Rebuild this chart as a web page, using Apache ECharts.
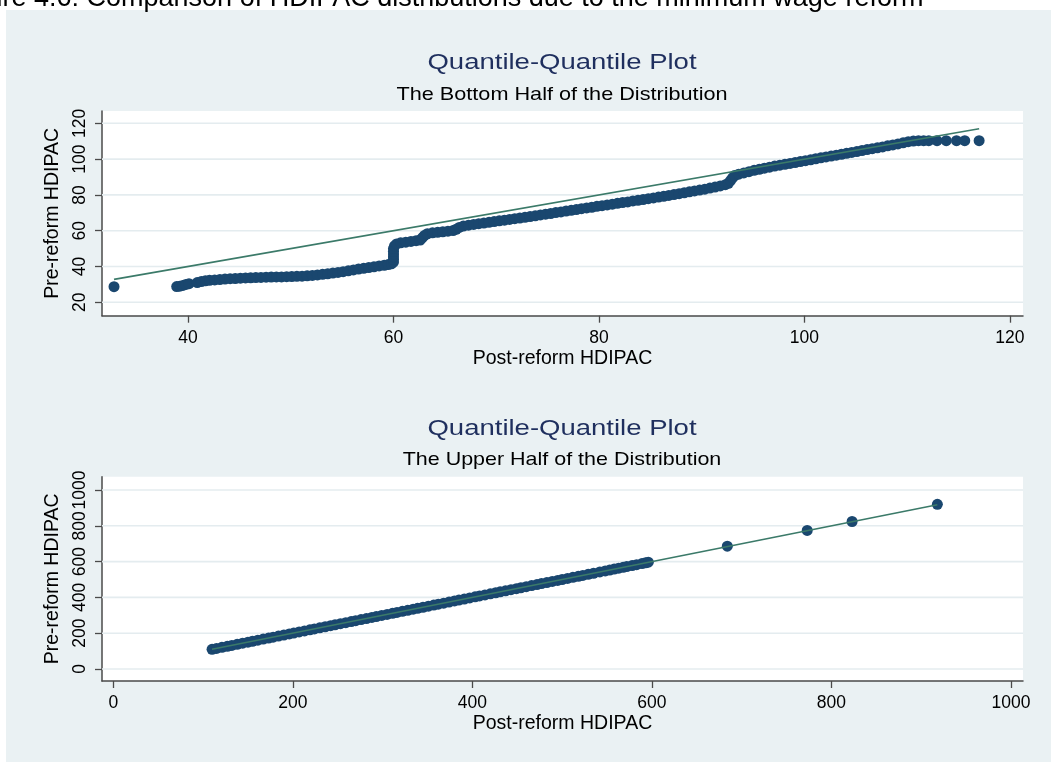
<!DOCTYPE html>
<html>
<head>
<meta charset="utf-8">
<script src="https://cdn.jsdelivr.net/npm/echarts@6/dist/echarts.min.js"></script>
<style>
  html, body { margin: 0; padding: 0; background: #ffffff; }
  #chart { width: 1051px; height: 769px; }
</style>
</head>
<body>
<div id="chart"></div>
<script>
// Bottom half of the distribution: post-reform quantiles (x) against pre-reform quantiles (y)
const bottomPost = [
  32.8, 38.9, 39.2, 39.5, 39.8, 40.1, 40.9, 41.3, 41.7, 42.1, 42.6, 43.1, 43.6, 44.1, 44.6, 45.1,
  45.6, 46.1, 46.6, 47.1, 47.6, 48.1, 48.6, 49.1, 49.6, 50.1, 50.6, 51.1, 51.6, 52.1, 52.6, 53.1,
  53.6, 54.1, 54.6, 55.1, 55.6, 56.1, 56.6, 57.1, 57.6, 58.1, 58.6, 59.1, 59.5, 59.8, 60.0, 60.0,
  60.0, 60.0, 60.0, 60.0, 60.1, 60.3, 60.7, 61.2, 61.7, 62.2, 62.6, 62.8, 63.0, 63.3, 63.8, 64.3,
  64.8, 65.3, 65.8, 66.1, 66.4, 66.8, 67.3, 67.8, 68.3, 68.8, 69.3, 69.8, 70.3, 70.8, 71.3, 71.8,
  72.3, 72.8, 73.3, 73.8, 74.3, 74.8, 75.3, 75.8, 76.3, 76.8, 77.3, 77.8, 78.3, 78.8, 79.3, 79.8,
  80.3, 80.8, 81.3, 81.8, 82.3, 82.8, 83.3, 83.8, 84.3, 84.8, 85.3, 85.8, 86.3, 86.8, 87.3, 87.8,
  88.3, 88.8, 89.3, 89.8, 90.3, 90.8, 91.3, 91.8, 92.3, 92.6, 92.8, 93.0, 93.2, 93.6, 94.1, 94.6,
  95.1, 95.6, 96.1, 96.6, 97.1, 97.6, 98.1, 98.6, 99.1, 99.6, 100.1, 100.6, 101.1, 101.6, 102.1, 102.6,
  103.1, 103.6, 104.1, 104.6, 105.1, 105.6, 106.1, 106.6, 107.1, 107.6, 108.1, 108.6, 109.1, 109.6, 110.1, 110.6,
  111.1, 111.6, 112.1, 112.9, 113.8, 114.8, 115.6, 117.0
];
const bottomPre = [
  28.7, 28.8, 29.0, 29.4, 30.0, 30.4, 31.0, 31.6, 32.0, 32.3, 32.5, 32.7, 33.0, 33.2, 33.3, 33.5,
  33.6, 33.7, 33.8, 33.9, 34.0, 34.1, 34.2, 34.2, 34.3, 34.4, 34.5, 34.6, 34.8, 35.0, 35.3, 35.6,
  35.9, 36.3, 36.7, 37.1, 37.6, 38.1, 38.6, 39.0, 39.4, 39.8, 40.3, 40.7, 41.1, 41.5, 42.5, 44.0,
  45.5, 47.0, 48.5, 50.0, 51.5, 52.6, 53.2, 53.6, 54.0, 54.4, 54.8, 56.0, 57.3, 58.3, 58.8, 59.1,
  59.4, 59.7, 60.1, 60.8, 61.8, 62.6, 63.1, 63.5, 63.9, 64.3, 64.7, 65.1, 65.5, 65.9, 66.3, 66.7,
  67.1, 67.5, 67.9, 68.3, 68.8, 69.2, 69.6, 70.1, 70.5, 71.0, 71.4, 71.8, 72.3, 72.7, 73.1, 73.6,
  74.0, 74.4, 74.8, 75.3, 75.7, 76.1, 76.6, 77.0, 77.4, 77.9, 78.3, 78.8, 79.2, 79.7, 80.2, 80.7,
  81.2, 81.7, 82.2, 82.7, 83.2, 83.8, 84.4, 85.0, 85.7, 86.5, 88.0, 89.5, 90.8, 91.6, 92.3, 93.0,
  93.7, 94.3, 94.9, 95.5, 96.1, 96.6, 97.1, 97.6, 98.1, 98.6, 99.1, 99.6, 100.2, 100.7, 101.2, 101.7,
  102.2, 102.7, 103.2, 103.7, 104.2, 104.8, 105.3, 105.8, 106.3, 106.8, 107.4, 107.9, 108.5, 109.1, 109.7, 110.1,
  110.3, 110.3, 110.3, 110.3, 110.3, 110.3, 110.3, 110.3
];

// Upper half of the distribution: post-reform quantiles (x) against pre-reform quantiles (y)
const upperPost = [
  110, 115, 121, 127, 132, 138, 144, 150, 155, 161, 167, 173, 178, 184, 190, 196,
  201, 207, 213, 219, 224, 230, 236, 242, 247, 253, 259, 265, 270, 276, 282, 288,
  293, 299, 305, 311, 316, 322, 328, 334, 339, 345, 351, 357, 362, 368, 374, 380,
  385, 391, 397, 403, 408, 414, 420, 426, 431, 437, 443, 449, 454, 460, 466, 472,
  477, 483, 489, 495, 500, 506, 512, 518, 523, 529, 535, 542, 548, 553, 558, 563,
  568, 572, 578, 583, 589, 593, 596, 684, 773, 823, 918
];
const upperPre = [
  110, 115, 121, 127, 132, 138, 144, 150, 155, 161, 167, 173, 178, 184, 190, 196,
  201, 207, 213, 219, 224, 230, 236, 242, 247, 253, 259, 265, 270, 276, 282, 288,
  293, 299, 305, 311, 316, 322, 328, 334, 339, 345, 351, 357, 362, 368, 374, 380,
  385, 391, 397, 403, 408, 414, 420, 426, 431, 437, 443, 449, 454, 460, 466, 472,
  477, 483, 489, 495, 500, 506, 512, 518, 523, 529, 535, 542, 548, 553, 558, 563,
  568, 572, 578, 583, 589, 593, 597, 686, 774, 824, 920
];

// Tick values
const bottomXTicks = [40, 60, 80, 100, 120];
const bottomYTicks = [20, 40, 60, 80, 100, 120];
const upperXTicks = [0, 200, 400, 600, 800, 1000];
const upperYTicks = [0, 200, 400, 600, 800, 1000];

// Text
const captionText = 'Figure 4.6: Comparison of HDIPAC distributions due to the minimum wage reform';
const plotTitle = 'Quantile-Quantile Plot';
const bottomSubtitle = 'The Bottom Half of the Distribution';
const upperSubtitle = 'The Upper Half of the Distribution';
const xName = 'Post-reform HDIPAC';
const yName = 'Pre-reform HDIPAC';

const FONT = '"Liberation Sans", Arial, Helvetica, sans-serif';
const NAVY = '#1a476f';
const REFLINE = '#3b7a69';
const GRIDLINE = '#e4ecef';
const AXIS = '#4a4a4a';

// axis ranges of the two panels
const bottomRange = { x: [31.63, 121.27], y: [12.51, 126.87] };
const upperRange = { x: [-12.6, 1013.4], y: [-67, 1074.3] };

const plainNumber = v => String(v);

function xAxisFor(gridIndex, range, ticks) {
  return {
    type: 'value', gridIndex, min: range[0], max: range[1],
    name: xName, nameLocation: 'middle', nameGap: 33,
    nameTextStyle: { fontFamily: FONT, fontSize: 19.5, color: '#000' },
    axisLine: { show: true, onZero: false, lineStyle: { color: AXIS, width: 1.5 } },
    axisTick: { show: true, length: 7, customValues: ticks, lineStyle: { color: AXIS, width: 1.3 } },
    axisLabel: { customValues: ticks, formatter: plainNumber, margin: 13,
                 fontFamily: FONT, fontSize: 17.5, color: '#000' },
    splitLine: { show: false }
  };
}
function yAxisFor(gridIndex, range, ticks) {
  return {
    type: 'value', gridIndex, min: range[0], max: range[1],
    name: yName, nameLocation: 'middle', nameGap: 30, nameRotate: 90,
    nameTextStyle: { fontFamily: FONT, fontSize: 19.5, color: '#000' },
    axisLine: { show: true, onZero: false, lineStyle: { color: AXIS, width: 1.5 } },
    axisTick: { show: true, length: 7, customValues: ticks, lineStyle: { color: AXIS, width: 1.3 } },
    axisLabel: { customValues: ticks, formatter: plainNumber, margin: 13, rotate: 90,
                 fontFamily: FONT, fontSize: 17.5, color: '#000' },
    splitLine: { show: false }
  };
}

// horizontal grid lines at the y tick values
function gridLineSeries(idx, ticks, xr) {
  return {
    type: 'custom', xAxisIndex: idx, yAxisIndex: idx, z: 1, silent: true, clip: false,
    data: ticks.map(v => [xr[0], v]),
    encode: { x: 0, y: 1 },
    renderItem: function (params, api) {
      const v = api.value(1);
      const a = api.coord([xr[0], v]);
      const b = api.coord([xr[1], v]);
      return { type: 'line', shape: { x1: a[0], y1: a[1], x2: b[0], y2: b[1] },
               style: { stroke: GRIDLINE, lineWidth: 1.6 } };
    }
  };
}
function pointSeries(idx, xs, ys) {
  return {
    type: 'scatter', xAxisIndex: idx, yAxisIndex: idx, z: 2, silent: true,
    symbol: 'circle', symbolSize: 11,
    itemStyle: { color: NAVY, opacity: 1 },
    data: xs.map((x, i) => [x, ys[i]])
  };
}
// 45-degree reference line over the range of the post-reform quantiles
function refLineSeries(idx, xs) {
  const lo = Math.min(...xs), hi = Math.max(...xs);
  return {
    type: 'line', xAxisIndex: idx, yAxisIndex: idx, z: 3, silent: true,
    showSymbol: false, symbol: 'none',
    lineStyle: { color: REFLINE, width: 1.6 },
    data: [[lo, lo], [hi, hi]]
  };
}

function titleText(text, x, y, size, color, sx) {
  return {
    type: 'text', x, y, scaleX: sx, z: 5,
    style: { text, x: 0, y: 0, fill: color, font: size + 'px ' + FONT,
             align: 'center', verticalAlign: 'middle',
             textAlign: 'center', textVerticalAlign: 'middle' }
  };
}

const chart = echarts.init(document.getElementById('chart'), null, { renderer: 'canvas' });
chart.setOption({
  animation: false,
  backgroundColor: '#ffffff',
  graphic: [
    { type: 'rect', z: -10, shape: { x: 6, y: 10, width: 1060, height: 752 }, style: { fill: '#eaf1f3' } },
    { type: 'text', x: -50, y: -1.5, z: 5,
      style: { text: captionText, x: 0, y: 0, fill: '#000', font: '27px ' + FONT,
               align: 'left', verticalAlign: 'middle', textAlign: 'left', textVerticalAlign: 'middle' } },
    titleText(plotTitle, 562, 62.5, 22, '#1f2f5e', 1.25),
    titleText(bottomSubtitle, 562, 94.5, 19, '#000', 1.14),
    titleText(plotTitle, 562, 428.5, 22, '#1f2f5e', 1.25),
    titleText(upperSubtitle, 562, 460, 19, '#000', 1.13)
  ],
  grid: [
    { left: 102, top: 111, width: 921, height: 204.7, show: true, backgroundColor: '#ffffff', borderWidth: 0 },
    { left: 102, top: 476.7, width: 921, height: 204.3, show: true, backgroundColor: '#ffffff', borderWidth: 0 }
  ],
  xAxis: [
    xAxisFor(0, bottomRange.x, bottomXTicks),
    xAxisFor(1, upperRange.x, upperXTicks)
  ],
  yAxis: [
    yAxisFor(0, bottomRange.y, bottomYTicks),
    yAxisFor(1, upperRange.y, upperYTicks)
  ],
  series: [
    gridLineSeries(0, bottomYTicks, bottomRange.x),
    pointSeries(0, bottomPost, bottomPre),
    refLineSeries(0, bottomPost),
    gridLineSeries(1, upperYTicks, upperRange.x),
    pointSeries(1, upperPost, upperPre),
    refLineSeries(1, upperPost)
  ]
});
</script>
</body>
</html>
